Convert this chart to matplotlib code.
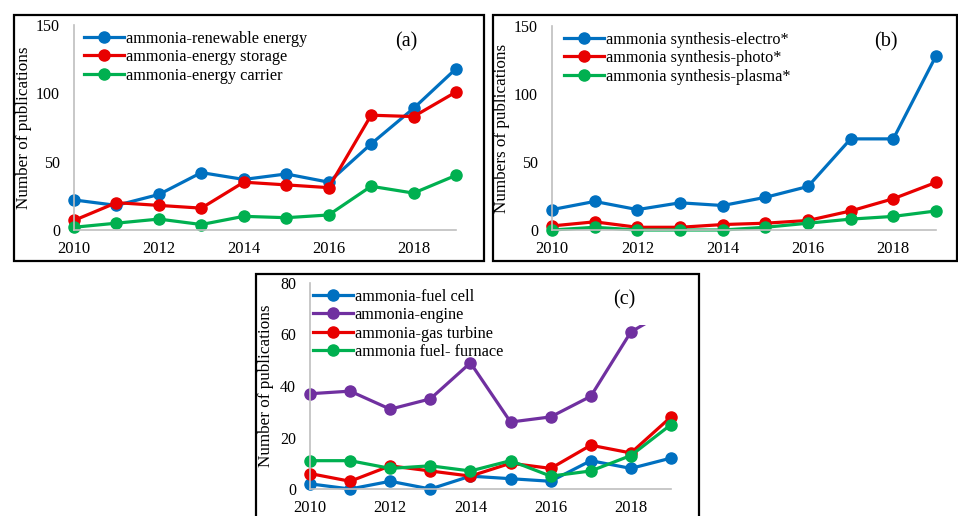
import matplotlib
matplotlib.use("Agg")
import matplotlib.pyplot as plt
from matplotlib.patches import Rectangle

plt.rcParams['font.family'] = ['Liberation Serif', 'DejaVu Serif']

years = list(range(2010, 2020))

# panel (a)
renewable = [22, 18, 26, 42, 37, 41, 35, 63, 89, 118]
storage = [7, 20, 18, 16, 35, 33, 31, 84, 83, 101]
carrier = [2, 5, 8, 4, 10, 9, 11, 32, 27, 40]

# panel (b)
electro = [15, 21, 15, 20, 18, 24, 32, 67, 67, 128]
photo = [3, 6, 2, 2, 4, 5, 7, 14, 23, 35]
plasma = [0, 2, 0, 0, 0, 2, 5, 8, 10, 14]

# panel (c)
fuel_cell = [2, 0, 3, 0, 5, 4, 3, 11, 8, 12]
engine = [37, 38, 31, 35, 49, 26, 28, 36, 61, 70]
gas_turbine = [6, 3, 9, 7, 5, 10, 8, 17, 14, 28]
furnace = [11, 11, 8, 9, 7, 11, 5, 7, 13, 25]

BLUE = '#0070C0'
RED = '#E80000'
GREEN = '#00B050'
PURPLE = '#7030A0'
GREY = '#BFBFBF'

W, H = 958, 516
fig = plt.figure(figsize=(W / 100, H / 100), dpi=100)


def px_axes(l, t, r, b):
    return fig.add_axes([l / W, 1 - b / H, (r - l) / W, (b - t) / H])


def frame(l, t, r, b):
    fig.patches.append(Rectangle((l / W, 1 - b / H), (r - l) / W, (b - t) / H,
                                 transform=fig.transFigure, fill=False,
                                 edgecolor='black', linewidth=1.6))


def style(ax, ymax, ystep, ylabel, tag, leg_x, lab_x):
    ax.set_xlim(2010, 2019)
    ax.set_ylim(0, ymax)
    ax.set_xticks(range(2010, 2019, 2))
    ax.set_yticks(range(0, ymax + 1, ystep))
    for s in ['top', 'right']:
        ax.spines[s].set_visible(False)
    for s in ['left', 'bottom']:
        ax.spines[s].set_color(GREY)
        ax.spines[s].set_linewidth(1.2)
    ax.tick_params(length=0, labelsize=12)
    ax.tick_params(axis='y', pad=10, labelsize=11.5)
    ax.tick_params(axis='x', pad=8)
    ax.set_ylabel(ylabel, fontsize=12.3)
    ax.yaxis.set_label_coords(lab_x, 0.5)
    ax.set_facecolor('none')
    ax.text(0.87, 0.92, tag, transform=ax.transAxes, fontsize=14.5,
            ha='center', va='center')
    ax.legend(loc='upper left', bbox_to_anchor=(leg_x, 1.02), frameon=False,
              fontsize=11.7, handlelength=2.5, handletextpad=0.1,
              labelspacing=0.15, borderaxespad=0.2)


def plot(ax, y, color, label, clip=None):
    line, = ax.plot(years, y, color=color, lw=2.3, marker='o', ms=8,
                    label=label, clip_on=False)
    if clip is not None:
        rect = Rectangle((2009, -10), 11, clip + 10, transform=ax.transData)
        line.set_clip_path(rect)
        line.set_clip_on(True)
    return line


# (a)
frame(14, 15, 484, 261)
ax = px_axes(74, 25, 456, 230)
plot(ax, renewable, BLUE, 'ammonia-renewable energy')
plot(ax, storage, RED, 'ammonia-energy storage')
plot(ax, carrier, GREEN, 'ammonia-energy carrier')
style(ax, 150, 50, 'Number of publications', '(a)', 0.0, -0.11)

# (b)
frame(493, 15, 957, 261)
ax = px_axes(552, 26, 936, 230)
plot(ax, electro, BLUE, 'ammonia synthesis-electro*')
plot(ax, photo, RED, 'ammonia synthesis-photo*')
plot(ax, plasma, GREEN, 'ammonia synthesis-plasma*')
style(ax, 150, 50, 'Numbers of publications', '(b)', 0.005, -0.11)

# (c)
frame(256, 274, 699, 530)
ax = px_axes(310, 283, 671, 489)
plot(ax, fuel_cell, BLUE, 'ammonia-fuel cell')
plot(ax, engine, PURPLE, 'ammonia-engine', clip=63.7)
plot(ax, gas_turbine, RED, 'ammonia-gas turbine')
plot(ax, furnace, GREEN, 'ammonia fuel- furnace')
style(ax, 80, 20, 'Number of publications', '(c)', -0.02, -0.1)

fig.savefig('out.png', dpi=100)
